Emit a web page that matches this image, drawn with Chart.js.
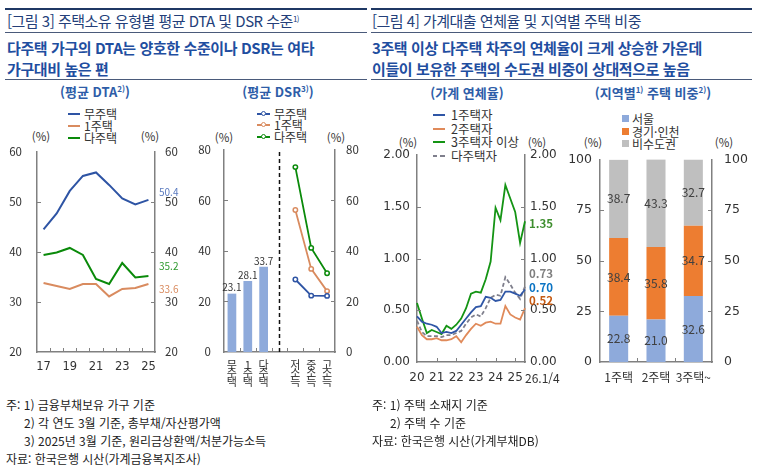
<!DOCTYPE html>
<html lang="ko">
<head>
<meta charset="utf-8">
<script src="https://cdn.jsdelivr.net/npm/chart.js@4.4.1/dist/chart.umd.min.js"></script>
<style>
  body { margin: 0; width: 757px; height: 469px; background: #fff; position: relative; overflow: hidden;
         font-family: "Noto Sans CJK KR", "Noto Sans", sans-serif; color: #222; }
  .t { position: absolute; white-space: nowrap; line-height: 16px; }
  .rule { position: absolute; height: 1px; background: #4a5a7a; }
  .rule.top { height: 2px; background: #1f3864; }
  .head { font-size: 15px; color: #243f7a; letter-spacing: -0.5px; }
  .sub { font-size: 15px; font-weight: 700; color: #1f4ea0; letter-spacing: -0.4px; line-height: 20px; }
  .ptitle { font-size: 13px; font-weight: 700; color: #2e5da8; text-align: center; }
  .sp { font-size: 8px; position: relative; top: -5px; }
  .lg { font-size: 12px; color: #333; }
  .pct { font-size: 11.5px; color: #333; text-align: center; width: 24px; }
  .note { font-size: 12px; color: #222; line-height: 18px; }
  .ln { position: absolute; height: 2px; }
  .dot { position: absolute; width: 3px; height: 3px; border-radius: 50%; background: #fff; border: 1.5px solid; }
  .sq { position: absolute; width: 7px; height: 7px; }
  canvas { position: absolute; }
</style>
</head>
<body>
<!-- 상단 제목 -->
<div class="rule top" style="left:5px;top:8px;width:362px"></div>
<div class="rule top" style="left:371px;top:8px;width:381px"></div>
<div class="t head" style="left:7px;top:13px">[그림 3] 주택소유 유형별 평균 DTA 및 DSR 수준<span class="sp">1)</span></div>
<div class="t head" style="left:372px;top:13px">[그림 4] 가계대출 연체율 및 지역별 주택 비중</div>
<div class="rule" style="left:5px;top:32px;width:362px"></div>
<div class="rule" style="left:371px;top:32px;width:381px"></div>
<div class="t sub" style="left:7px;top:38px">다주택 가구의 DTA는 양호한 수준이나 DSR는 여타</div>
<div class="t sub" style="left:7px;top:59px">가구대비 높은 편</div>
<div class="t sub" style="left:372px;top:38px">3주택 이상 다주택 차주의 연체율이 크게 상승한 가운데</div>
<div class="t sub" style="left:372px;top:59px">이들이 보유한 주택의 수도권 비중이 상대적으로 높음</div>
<div class="rule" style="left:5px;top:79px;width:362px"></div>
<div class="rule" style="left:371px;top:79px;width:381px"></div>

<!-- 패널 제목 -->
<div class="t ptitle" style="left:45px;top:84px;width:100px">(평균 DTA<span class="sp">2)</span>)</div>
<div class="t ptitle" style="left:228px;top:84px;width:100px">(평균 DSR<span class="sp">3)</span>)</div>
<div class="t ptitle" style="left:412px;top:85px;width:110px">(가계 연체율)</div>
<div class="t ptitle" style="left:588px;top:85px;width:130px">(지역별<span class="sp">1)</span> 주택 비중<span class="sp">2)</span>)</div>

<!-- 범례: DTA -->
<div class="ln" style="left:68px;top:113px;width:12px;background:#2e54a4"></div>
<div class="t lg" style="left:84px;top:106px">무주택</div>
<div class="ln" style="left:68px;top:125px;width:12px;background:#d98b5f"></div>
<div class="t lg" style="left:84px;top:118px">1주택</div>
<div class="ln" style="left:68px;top:137px;width:12px;background:#0a8a0a"></div>
<div class="t lg" style="left:84px;top:130px">다주택</div>

<!-- 범례: DSR -->
<div class="ln" style="left:257px;top:113px;width:13px;background:#2e54a4"></div>
<div class="dot" style="left:261px;top:111px;border-color:#2e54a4"></div>
<div class="t lg" style="left:274px;top:106px">무주택</div>
<div class="ln" style="left:257px;top:124px;width:13px;background:#d98b5f"></div>
<div class="dot" style="left:261px;top:122px;border-color:#d98b5f"></div>
<div class="t lg" style="left:274px;top:117px">1주택</div>
<div class="ln" style="left:257px;top:136px;width:13px;background:#0a8a0a"></div>
<div class="dot" style="left:261px;top:134px;border-color:#0a8a0a"></div>
<div class="t lg" style="left:274px;top:129px">다주택</div>

<!-- 범례: 연체율 -->
<div class="ln" style="left:433px;top:114px;width:12px;background:#2f56a6"></div>
<div class="t lg" style="left:451px;top:107px;font-size:12.5px">1주택자</div>
<div class="ln" style="left:433px;top:128px;width:12px;background:#e08a5a"></div>
<div class="t lg" style="left:451px;top:121px;font-size:12.5px">2주택자</div>
<div class="ln" style="left:433px;top:141px;width:12px;background:#149414"></div>
<div class="t lg" style="left:451px;top:134px;font-size:12.5px">3주택자 이상</div>
<div class="ln" style="left:433px;top:155px;width:4px;background:#7f7f8c"></div>
<div class="ln" style="left:440px;top:155px;width:5px;background:#7f7f8c"></div>
<div class="t lg" style="left:451px;top:148px;font-size:12.5px">다주택자</div>

<!-- 범례: 지역별 -->
<div class="sq" style="left:622px;top:115px;background:#8eaadb"></div>
<div class="t lg" style="left:632px;top:111px">서울</div>
<div class="sq" style="left:622px;top:128px;background:#ed7d31"></div>
<div class="t lg" style="left:632px;top:124px">경기·인천</div>
<div class="sq" style="left:622px;top:140px;background:#bfbfbf"></div>
<div class="t lg" style="left:632px;top:136px">비수도권</div>

<!-- (%) 단위 -->
<div class="t pct" style="left:29px;top:128px">(%)</div>
<div class="t pct" style="left:138px;top:128px">(%)</div>
<div class="t pct" style="left:212px;top:129px">(%)</div>
<div class="t pct" style="left:324px;top:129px">(%)</div>
<div class="t pct" style="left:396px;top:134px">(%)</div>
<div class="t pct" style="left:525px;top:134px">(%)</div>
<div class="t pct" style="left:581px;top:134px">(%)</div>
<div class="t pct" style="left:712px;top:134px">(%)</div>

<canvas id="dta" width="190" height="250" style="left:0;top:130px;width:190px;height:250px"></canvas>
<canvas id="dsr" width="185" height="270" style="left:190px;top:130px;width:185px;height:270px"></canvas>
<canvas id="arrears" width="200" height="250" style="left:370px;top:140px;width:200px;height:250px"></canvas>
<canvas id="region" width="197" height="250" style="left:560px;top:140px;width:197px;height:250px"></canvas>

<!-- 주석 -->
<div class="t note" style="left:6px;top:396px">주: 1) 금융부채보유 가구 기준</div>
<div class="t note" style="left:24px;top:414px">2) 각 연도 3월 기준, 총부채/자산평가액</div>
<div class="t note" style="left:24px;top:432px">3) 2025년 3월 기준, 원리금상환액/처분가능소득</div>
<div class="t note" style="left:6px;top:450px">자료: 한국은행 시산(가계금융복지조사)</div>
<div class="t note" style="left:372px;top:396px">주: 1) 주택 소재지 기준</div>
<div class="t note" style="left:390px;top:414px">2) 주택 수 기준</div>
<div class="t note" style="left:372px;top:432px">자료: 한국은행 시산(가계부채DB)</div>

<script>
// ---- 데이터 ----
// 평균 DTA (각 연도 3월)
const dtaYears = ['17', '18', '19', '20', '21', '22', '23', '24', '25'];
const dtaNoHouse = [44.5, 47.7, 52.2, 55.2, 55.9, 53.4, 50.7, 49.5, 50.4];
const dtaOneHouse = [33.8, 33.2, 32.6, 33.6, 33.6, 31.1, 32.6, 32.8, 33.6];
const dtaMultiHouse = [39.4, 39.9, 40.8, 39.4, 34.6, 33.6, 37.8, 34.9, 35.2];
const dtaYTicks = [20, 30, 40, 50, 60];

// 평균 DSR
const dsrCategories = ['무주택', '1주택', '다주택', '', '저소득', '중소득', '고소득'];
const dsrByOwnership = [23.1, 28.1, 33.7];
const dsrNoHouse = [28.7, 22.3, 22.2];
const dsrOneHouse = [56.2, 32.9, 24.1];
const dsrMultiHouse = [73.2, 41.2, 31.2];
const dsrYTicks = [0, 20, 40, 60, 80];

// 가계 연체율 (분기)
const arrearsQuarters = [
    '20.1/4', '20.2/4', '20.3/4', '20.4/4', '21.1/4', '21.2/4', '21.3/4', '21.4/4',
    '22.1/4', '22.2/4', '22.3/4', '22.4/4', '23.1/4', '23.2/4', '23.3/4', '23.4/4',
    '24.1/4', '24.2/4', '24.3/4', '24.4/4', '25.1/4', '25.2/4', '25.3/4'
];
const arrearsOne = [0.44, 0.39, 0.37, 0.36, 0.34, 0.28, 0.29, 0.28, 0.30, 0.36, 0.42, 0.48,
    0.53, 0.54, 0.63, 0.62, 0.59, 0.60, 0.68, 0.68, 0.66, 0.64, 0.70];
const arrearsTwo = [0.34, 0.26, 0.22, 0.22, 0.23, 0.21, 0.21, 0.22, 0.25, 0.19, 0.26, 0.32,
    0.37, 0.35, 0.38, 0.39, 0.37, 0.37, 0.54, 0.46, 0.43, 0.41, 0.52];
const arrearsThreePlus = [0.57, 0.42, 0.28, 0.31, 0.29, 0.27, 0.35, 0.32, 0.36, 0.42, 0.52, 0.66,
    0.68, 0.67, 0.80, 0.97, 1.49, 1.37, 1.71, 1.58, 1.45, 1.15, 1.36];
const arrearsMulti = [0.40, 0.29, 0.25, 0.25, 0.25, 0.24, 0.26, 0.26, 0.28, 0.30, 0.37, 0.43,
    0.46, 0.44, 0.52, 0.62, 0.65, 0.64, 0.82, 0.75, 0.67, 0.61, 0.73];
const arrearsYTicks = [0, 0.5, 1, 1.5, 2];
const arrearsEndLabel = '26.1/4';
const arrearsEndValues = ['0.70', '0.52', '1.35', '0.73'];

// 지역별 주택 비중
const regionGroups = ['1주택', '2주택', '3주택~'];
const regionSeoul = [22.8, 21.0, 32.6];
const regionGyeonggi = [38.4, 35.8, 34.7];
const regionNonCapital = [38.7, 43.3, 32.7];
const regionYTicks = [0, 25, 50, 75, 100];

// ---- 공통 설정 ----
const AXIS = '#808080';
const KR = '"Noto Sans CJK KR", "Noto Sans", sans-serif';
const DV = '"DejaVu Sans", sans-serif';

// y축 (좌/우 동일 눈금)
function eixoY(position, ticks, width, padding, font, fmt) {
    return {
        position: position,
        min: ticks[0],
        max: ticks[ticks.length - 1],
        grid: { display: false, drawTicks: false },
        border: { display: true, color: AXIS, width: 1.5 },
        ticks: {
            stepSize: ticks[1] - ticks[0],
            padding: padding,
            color: '#333',
            font: font,
            callback: fmt || (v => v)
        },
        afterFit: s => { s.width = width; }
    };
}

function eixoX(height, padding, font, callback, offset) {
    return {
        offset: offset,
        grid: { display: false, drawTicks: false },
        border: { display: true, color: AXIS, width: 1.5 },
        ticks: {
            autoSkip: false, maxRotation: 0, minRotation: 0,
            padding: padding, color: '#333', font: font, callback: callback
        },
        afterFit: s => { s.height = height; }
    };
}

// 안쪽 눈금 표시
function marcasInternas(xValues) {
    return {
        id: 'marcasInternas',
        afterDraw(chart) {
            const ctx = chart.ctx, area = chart.chartArea;
            ctx.save();
            ctx.strokeStyle = AXIS;
            ctx.lineWidth = 1;
            xValues.forEach(v => {
                const px = Math.round(chart.scales.x.getPixelForValue(v)) + 0.5;
                ctx.beginPath(); ctx.moveTo(px, area.bottom); ctx.lineTo(px, area.bottom - 4); ctx.stroke();
            });
            ['y', 'y2'].forEach(id => {
                const s = chart.scales[id];
                const bx = id === 'y' ? area.left : area.right;
                const dir = id === 'y' ? 1 : -1;
                s.ticks.forEach(t => {
                    if (t.value === s.min || t.value === s.max) return;
                    const py = Math.round(s.getPixelForValue(t.value)) + 0.5;
                    ctx.beginPath(); ctx.moveTo(bx, py); ctx.lineTo(bx + dir * 4, py); ctx.stroke();
                });
            });
            ctx.restore();
        }
    };
}

// 마지막 값 라벨
function rotulosFinais(texts, colors, shifts, font) {
    return {
        id: 'rotulosFinais',
        afterDatasetsDraw(chart) {
            const ctx = chart.ctx, area = chart.chartArea;
            ctx.save();
            ctx.font = font;
            ctx.textAlign = 'left';
            ctx.textBaseline = 'middle';
            texts.forEach((txt, i) => {
                const meta = chart.getDatasetMeta(i);
                const el = meta.data[meta.data.length - 1];
                ctx.fillStyle = colors[i];
                ctx.fillText(txt, area.right + 4, el.y + shifts[i]);
            });
            ctx.restore();
        }
    };
}

const base = {
    responsive: false,
    animation: false,
    events: [],
    plugins: { legend: { display: false }, tooltip: { enabled: false } }
};

// ---- 그림 3 왼쪽: 평균 DTA ----
function criarGraficoDTA() {
    const f = { family: KR, size: 11.5 };
    new Chart(document.getElementById('dta'), {
        type: 'line',
        data: {
            labels: dtaYears,
            datasets: [
                { label: '무주택', data: dtaNoHouse, borderColor: '#2e54a4' },
                { label: '1주택', data: dtaOneHouse, borderColor: '#d98b5f' },
                { label: '다주택', data: dtaMultiHouse, borderColor: '#0a8a0a' }
            ].map(d => Object.assign(d, { borderWidth: 2, pointRadius: 0, tension: 0, yAxisID: 'y' }))
        },
        options: Object.assign({}, base, {
            layout: { padding: { top: 16 } },
            scales: {
                x: eixoX(28, 8, { family: DV, size: 11.5 }, (v, i) => (i % 2 === 0 ? dtaYears[i] : ''), true),
                y: eixoY('left', dtaYTicks, 37, 15, f),
                y2: eixoY('right', dtaYTicks, 35, 10, f)
            }
        }),
        plugins: [
            marcasInternas(dtaYears.slice(1).map((_, i) => i + 0.5)),
            rotulosFinais(
                [dtaNoHouse, dtaOneHouse, dtaMultiHouse].map(s => s[s.length - 1].toFixed(1)),
                ['#5b7bc0', '#d98b5f', '#2e9a2e'], [-8, 5, -10], '10px ' + KR)
        ]
    });
}

// ---- 그림 3 오른쪽: 평균 DSR ----
function criarGraficoDSR() {
    const f = { family: KR, size: 11.5 };
    const vazio = [null, null, null, null];
    const linha = (label, valores, cor) => ({
        type: 'line', label: label, data: [null, null, null, null].concat(valores),
        borderColor: cor, backgroundColor: '#fff', borderWidth: 1.8,
        pointRadius: 2.2, pointBorderWidth: 1.5, pointBackgroundColor: '#fff', pointBorderColor: cor,
        tension: 0, spanGaps: false
    });
    new Chart(document.getElementById('dsr'), {
        data: {
            labels: dsrCategories,
            datasets: [
                {
                    type: 'bar', label: '평균 DSR', data: dsrByOwnership.concat(vazio),
                    backgroundColor: '#8eaadb', barPercentage: 0.55, categoryPercentage: 1
                },
                linha('무주택', dsrNoHouse, '#2e54a4'),
                linha('1주택', dsrOneHouse, '#d98b5f'),
                linha('다주택', dsrMultiHouse, '#0a8a0a')
            ]
        },
        options: Object.assign({}, base, {
            layout: { padding: { top: 16 } },
            scales: {
                x: eixoX(48, 8, { family: KR, size: 11, lineHeight: 0.8 },
                    (v, i) => dsrCategories[i].split(''), true),
                y: eixoY('left', dsrYTicks, 34, 13, f),
                y2: eixoY('right', dsrYTicks, 40, 11, f)
            }
        }),
        plugins: [
            marcasInternas(dsrCategories.slice(1).map((_, i) => i + 0.5)),
            {
                id: 'separadorERotulos',
                afterDatasetsDraw(chart) {
                    const ctx = chart.ctx, area = chart.chartArea;
                    ctx.save();
                    // 구분선 (빈 칸 중앙)
                    const px = chart.scales.x.getPixelForValue(3);
                    ctx.strokeStyle = '#111';
                    ctx.lineWidth = 1.5;
                    ctx.setLineDash([4, 3]);
                    ctx.beginPath(); ctx.moveTo(px, area.top + 2); ctx.lineTo(px, area.bottom); ctx.stroke();
                    ctx.setLineDash([]);
                    // 막대 위 수치
                    ctx.font = '10px ' + KR;
                    ctx.fillStyle = '#333';
                    ctx.textAlign = 'center';
                    ctx.textBaseline = 'bottom';
                    chart.getDatasetMeta(0).data.forEach((el, i) => {
                        if (dsrByOwnership[i] === undefined) return;
                        ctx.fillText(dsrByOwnership[i].toFixed(1), el.x, el.y - 1);
                    });
                    ctx.restore();
                }
            }
        ]
    });
}

// ---- 그림 4 왼쪽: 가계 연체율 ----
function criarGraficoEmAtraso() {
    const f = { family: DV, size: 12 };
    const serie = (label, data, cor, dash) => ({
        label: label, data: data, borderColor: cor, borderWidth: 1.8,
        borderDash: dash || [], pointRadius: 0, tension: 0
    });
    new Chart(document.getElementById('arrears'), {
        type: 'line',
        data: {
            labels: arrearsQuarters,
            datasets: [
                serie('1주택자', arrearsOne, '#2f56a6'),
                serie('2주택자', arrearsTwo, '#e08a5a'),
                serie('3주택자 이상', arrearsThreePlus, '#149414'),
                serie('다주택자', arrearsMulti, '#7f7f8c', [4, 2.5])
            ]
        },
        options: Object.assign({}, base, {
            layout: { padding: { top: 15 } },
            scales: {
                x: eixoX(28, 8.5, f, (v, i) => (arrearsQuarters[i].endsWith('.1/4') ? arrearsQuarters[i].slice(0, 2) : ''), false),
                y: eixoY('left', arrearsYTicks, 47, 7, f, v => v.toFixed(2)),
                y2: eixoY('right', arrearsYTicks, 45, 5, f, v => v.toFixed(2))
            }
        }),
        plugins: [
            marcasInternas(arrearsQuarters.map((q, i) => (q.endsWith('.1/4') && i > 0 ? i : null)).filter(v => v !== null)),
            rotulosFinais(arrearsEndValues, ['#0b74c4', '#c65a12', '#3e8e2e', '#7f7f7f'], [-2, -8, 2, -13],
                'bold 11.5px ' + KR),
            {
                id: 'rotuloFinalEixo',
                afterDraw(chart) {
                    const ctx = chart.ctx, area = chart.chartArea;
                    ctx.save();
                    ctx.font = '12px ' + KR;
                    ctx.fillStyle = '#333';
                    ctx.textAlign = 'left';
                    ctx.textBaseline = 'middle';
                    ctx.fillText(arrearsEndLabel, area.right, area.bottom + 16);
                    ctx.restore();
                }
            }
        ]
    });
}

// ---- 그림 4 오른쪽: 지역별 주택 비중 ----
function criarGraficoRegiao() {
    const f = { family: DV, size: 12.5 };
    const camada = (label, data, cor) => ({
        label: label, data: data, backgroundColor: cor, barPercentage: 0.51, categoryPercentage: 1
    });
    new Chart(document.getElementById('region'), {
        type: 'bar',
        data: {
            labels: regionGroups,
            datasets: [
                camada('서울', regionSeoul, '#8eaadb'),
                camada('경기·인천', regionGyeonggi, '#ed7d31'),
                camada('비수도권', regionNonCapital, '#bfbfbf')
            ]
        },
        options: Object.assign({}, base, {
            layout: { padding: { top: 16 } },
            scales: {
                x: Object.assign(eixoX(28, 8.5, { family: KR, size: 12 }, (v, i) => regionGroups[i], true), { stacked: true }),
                y: Object.assign(eixoY('left', regionYTicks, 40, 8, f), { stacked: true }),
                y2: eixoY('right', regionYTicks, 45, 12, f)
            }
        }),
        plugins: [
            marcasInternas([0.5, 1.5]),
            {
                id: 'rotulosEmpilhados',
                afterDatasetsDraw(chart) {
                    const ctx = chart.ctx;
                    ctx.save();
                    ctx.font = '12px ' + KR;
                    ctx.fillStyle = '#404040';
                    ctx.textAlign = 'center';
                    ctx.textBaseline = 'middle';
                    chart.data.datasets.forEach((ds, d) => {
                        chart.getDatasetMeta(d).data.forEach((el, i) => {
                            ctx.fillText(ds.data[i].toFixed(1), el.x, (el.y + el.base) / 2);
                        });
                    });
                    ctx.restore();
                }
            }
        ]
    });
}

document.addEventListener('DOMContentLoaded', () => {
    criarGraficoDTA();
    criarGraficoDSR();
    criarGraficoEmAtraso();
    criarGraficoRegiao();
});
</script>
</body>
</html>
